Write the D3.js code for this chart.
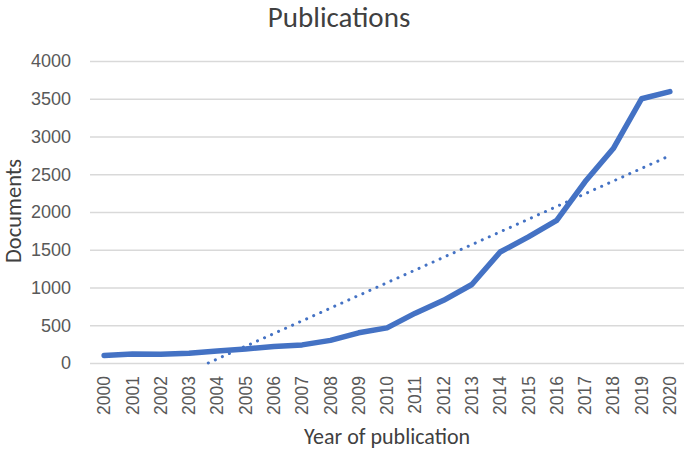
<!DOCTYPE html>
<html>
<head>
<meta charset="utf-8">
<script src="https://cdn.jsdelivr.net/npm/d3@7"></script>
<style>
  body { margin: 0; background: #fff; }
  svg { display: block; font-family: Calibri, Carlito, Lato, sans-serif; }
</style>
</head>
<body>
<div id="chart"></div>
<script>
// Data
const years = ["2000", "2001", "2002", "2003", "2004", "2005", "2006", "2007", "2008", "2009", "2010",
  "2011", "2012", "2013", "2014", "2015", "2016", "2017", "2018", "2019", "2020"];
const documents = [100, 120, 115, 130, 160, 185, 220, 240, 300, 400, 465,
  660, 830, 1040, 1470, 1670, 1890, 2400, 2840, 3500, 3595];
const yTicks = [0, 500, 1000, 1500, 2000, 2500, 3000, 3500, 4000];

// Dimensions
const width = 685;
const height = 451;
const margin = { top: 61, right: 1, bottom: 88, left: 90 };

const svg = d3.select("#chart").append("svg")
  .attr("width", width)
  .attr("height", height);

const x = d3.scaleBand()
  .domain(years)
  .range([margin.left, width - margin.right]);

const y = d3.scaleLinear()
  .domain([0, 4000])
  .range([height - margin.bottom, margin.top]);

const textColor = "#595959";
const blue = "#4472C4";

// gridlines + y labels
const yAxis = d3.axisLeft(y)
  .tickValues(yTicks)
  .tickFormat(d3.format("d"))
  .tickSize(-(width - margin.left - margin.right))
  .tickPadding(19);

svg.append("g")
  .attr("transform", `translate(${margin.left},0)`)
  .call(yAxis)
  .call(g => g.select(".domain").remove())
  .call(g => g.selectAll(".tick line").attr("stroke", "#d9d9d9").attr("stroke-width", 1.3))
  .call(g => g.selectAll(".tick text").attr("fill", textColor).attr("font-size", 18));

// x labels, rotated
const xAxis = d3.axisBottom(x).tickSize(0).tickPadding(0);

svg.append("g")
  .attr("transform", `translate(0,${height - margin.bottom})`)
  .call(xAxis)
  .call(g => g.select(".domain").remove())
  .call(g => g.selectAll(".tick text")
    .attr("fill", textColor)
    .attr("font-size", 17.5)
    .attr("text-anchor", "end")
    .attr("dy", "0.35em")
    .attr("transform", "translate(0,13) rotate(-90)"));

// linear trend (least squares), like the spreadsheet trendline, clipped at 0
const xs = d3.range(years.length);
const mx = d3.mean(xs);
const my = d3.mean(documents);
const slope = d3.sum(xs, i => (i - mx) * (documents[i] - my)) / d3.sum(xs, i => (i - mx) * (i - mx));
const intercept = my - slope * mx;
const x0 = -intercept / slope; // where the trend crosses zero
const xpos = i => x(years[0]) + x.bandwidth() / 2 + i * x.step();

svg.append("line")
  .attr("x1", xpos(x0))
  .attr("y1", y(0))
  .attr("x2", xpos(years.length - 1))
  .attr("y2", y(intercept + slope * (years.length - 1)))
  .attr("stroke", blue)
  .attr("stroke-width", 3)
  .attr("stroke-linecap", "round")
  .attr("stroke-dasharray", "0.1 7.6");

// main line
const line = d3.line()
  .x(d => x(d[0]) + x.bandwidth() / 2)
  .y(d => y(d[1]));

svg.append("path")
  .datum(d3.zip(years, documents))
  .attr("fill", "none")
  .attr("stroke", blue)
  .attr("stroke-width", 5.5)
  .attr("stroke-linejoin", "round")
  .attr("stroke-linecap", "round")
  .attr("d", line);

// titles
svg.append("text")
  .attr("x", 339)
  .attr("y", 27)
  .attr("text-anchor", "middle")
  .attr("fill", "#404040")
  .attr("font-size", 29)
  .text("Publications");

svg.append("text")
  .attr("transform", `translate(21,211) rotate(-90)`)
  .attr("text-anchor", "middle")
  .attr("fill", "#404040")
  .attr("font-size", 22.5)
  .text("Documents");

svg.append("text")
  .attr("x", 387)
  .attr("y", 444)
  .attr("text-anchor", "middle")
  .attr("fill", "#404040")
  .attr("font-size", 22)
  .text("Year of publication");
</script>
</body>
</html>
